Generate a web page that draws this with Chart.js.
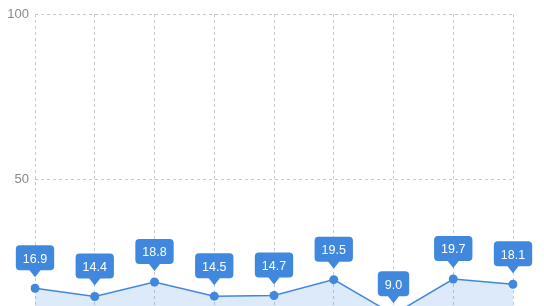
<!DOCTYPE html>
<html><head><meta charset="utf-8">
<script src="https://cdn.jsdelivr.net/npm/chart.js@4/dist/chart.umd.min.js"></script>
<style>html,body{margin:0;padding:0;overflow:hidden;background:#fff}#wrap{width:544px;height:362px;position:relative}</style>
</head><body><div id="wrap"><canvas id="c"></canvas></div>
<script>
const categories = ['1','2','3','4','5','6','7','8','9'];
const values = [16.9, 14.4, 18.8, 14.5, 14.7, 19.5, 9.0, 19.7, 18.1];
const yTicks = [0, 50, 100];

const BLUE = '#4088dd';
const calloutPlugin = {
  id: 'callouts',
  afterDatasetsDraw(chart) {
    const ctx = chart.ctx;
    const meta = chart.getDatasetMeta(0);
    ctx.save();
    ctx.font = '12.5px "Liberation Sans", Arial, sans-serif';
    ctx.textAlign = 'center';
    ctx.textBaseline = 'middle';
    meta.data.forEach((pt, i) => {
      const txt = values[i].toFixed(1);
      const w = ctx.measureText(txt).width + 14;
      const bottom = pt.y - 18;
      const top = pt.y - 43;
      const h = bottom - top;
      const left = pt.x - w / 2;
      const r = 4;
      ctx.fillStyle = BLUE;
      ctx.beginPath();
      ctx.moveTo(left + r, top);
      ctx.lineTo(left + w - r, top);
      ctx.quadraticCurveTo(left + w, top, left + w, top + r);
      ctx.lineTo(left + w, bottom - r);
      ctx.quadraticCurveTo(left + w, bottom, left + w - r, bottom);
      ctx.lineTo(pt.x + 5.5, bottom);
      ctx.lineTo(pt.x, pt.y - 11);
      ctx.lineTo(pt.x - 5.5, bottom);
      ctx.lineTo(left + r, bottom);
      ctx.quadraticCurveTo(left, bottom, left, bottom - r);
      ctx.lineTo(left, top + r);
      ctx.quadraticCurveTo(left, top, left + r, top);
      ctx.closePath();
      ctx.fill();
      ctx.fillStyle = '#fff';
      ctx.fillText(txt, pt.x, top + h / 2 + 1.5);
    });
    ctx.restore();
  }
};

new Chart(document.getElementById('c'), {
  type: 'line',
  data: {
    labels: categories,
    datasets: [{
      data: values,
      borderColor: BLUE,
      borderWidth: 1.5,
      backgroundColor: 'rgba(64,136,221,0.18)',
      fill: 'origin',
      tension: 0,
      pointRadius: 4.5,
      pointBackgroundColor: BLUE,
      pointBorderColor: BLUE,
      pointBorderWidth: 0
    }]
  },
  options: {
    responsive: true,
    maintainAspectRatio: false,
    animation: false,
    layout: { padding: { top: 14, right: 31, bottom: 18, left: 0 } },
    plugins: { legend: { display: false }, tooltip: { enabled: false } },
    scales: {
      x: {
        offset: false,
        ticks: { display: false },
        grid: { color: '#c8c8c8', drawTicks: false, lineWidth: 1 },
        border: { display: false, dash: [3, 3] }
      },
      y: {
        min: 0, max: 100,
        afterBuildTicks(s) { s.ticks = yTicks.map(v => ({ value: v })); },
        afterFit(s) { s.width = 35; },
        ticks: { color: '#888', padding: 6, font: { size: 13, family: '"Liberation Sans", Arial, sans-serif' } },
        grid: { color: '#c8c8c8', drawTicks: false, lineWidth: 1 },
        border: { display: false, dash: [3, 3] }
      }
    }
  },
  plugins: [calloutPlugin]
});
</script></body></html>
